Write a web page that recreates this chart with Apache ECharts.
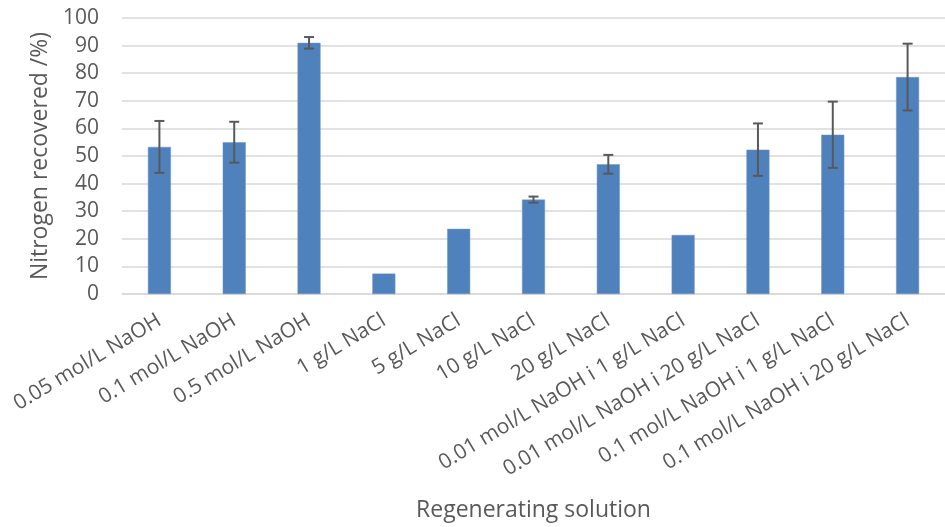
<!DOCTYPE html>
<html>
<head>
<meta charset="utf-8">
<script src="https://cdn.jsdelivr.net/npm/echarts@6/dist/echarts.min.js"></script>
<style>
  html, body { margin: 0; padding: 0; background: #fff; }
  #chart { width: 945px; height: 527px; }
</style>
</head>
<body>
<div id="chart"></div>
<script>
// Regenerating solutions tested
const categories = [
  '0.05 mol/L NaOH',
  '0.1 mol/L NaOH',
  '0.5 mol/L NaOH',
  '1 g/L NaCl',
  '5 g/L NaCl',
  '10 g/L NaCl',
  '20 g/L NaCl',
  '0.01 mol/L NaOH i 1 g/L NaCl',
  '0.01 mol/L NaOH i 20 g/L NaCl',
  '0.1 mol/L NaOH i 1 g/L NaCl',
  '0.1 mol/L NaOH i 20 g/L NaCl'
];
// Mean nitrogen recovered (%)
const recovered = [53.3, 55.0, 91.0, 7.4, 23.6, 34.2, 47.0, 21.4, 52.3, 57.7, 78.6];
// Symmetric error (± %), null where no error bar is shown
const errors = [9.4, 7.4, 2.1, null, null, 1.1, 3.4, null, 9.5, 12.0, 12.1];
const yTicks = { min: 0, max: 100, interval: 10 };

const font = '"Open Sans", "Noto Sans", sans-serif';
const textColor = '#595959';
const gridColor = '#d9d9d9';

const errorData = recovered.map((v, i) => [i, v, errors[i]]);

const chart = echarts.init(document.getElementById('chart'), null, { renderer: 'canvas' });
chart.setOption({
  animation: false,
  backgroundColor: '#ffffff',
  grid: { left: 122, top: 18, width: 829, height: 278, containLabel: false },
  xAxis: {
    type: 'category',
    data: categories,
    name: 'Regenerating solution',
    nameLocation: 'middle',
    nameGap: 205,
    nameTextStyle: { fontFamily: font, fontSize: 23, color: textColor },
    axisLine: { show: true, lineStyle: { color: gridColor, width: 1.5 } },
    axisTick: { show: false },
    axisLabel: {
      interval: 0,
      rotate: 31,
      margin: 25,
      fontFamily: font,
      fontSize: 21,
      color: textColor
    }
  },
  yAxis: {
    type: 'value',
    min: yTicks.min,
    max: yTicks.max,
    interval: yTicks.interval,
    name: 'Nitrogen recovered /%)',
    nameLocation: 'middle',
    nameGap: 65,
    nameRotate: 90,
    nameTextStyle: { fontFamily: font, fontSize: 23, color: textColor },
    axisLine: { show: false },
    axisTick: { show: false },
    axisLabel: { margin: 23, fontFamily: font, fontSize: 21, color: textColor },
    splitLine: { show: true, lineStyle: { color: gridColor, width: 1.5 } }
  },
  series: [
    {
      type: 'bar',
      data: recovered,
      barWidth: 23,
      itemStyle: { color: '#4f81bd', borderColor: '#6f96c8', borderWidth: 0.5 }
    },
    {
      type: 'custom',
      data: errorData,
      z: 5,
      renderItem: function (params, api) {
        const i = api.value(0);
        const v = api.value(1);
        const e = api.value(2);
        if (e === null || e === undefined || isNaN(e)) return null;
        const top = api.coord([i, v + e]);
        const bot = api.coord([i, v - e]);
        const cap = 5;
        const style = { stroke: '#595959', lineWidth: 2, fill: null };
        return {
          type: 'group',
          children: [
            { type: 'line', shape: { x1: top[0], y1: top[1], x2: bot[0], y2: bot[1] }, style: style },
            { type: 'line', shape: { x1: top[0] - cap, y1: top[1], x2: top[0] + cap, y2: top[1] }, style: style },
            { type: 'line', shape: { x1: bot[0] - cap, y1: bot[1], x2: bot[0] + cap, y2: bot[1] }, style: style }
          ]
        };
      }
    }
  ]
});
</script>
</body>
</html>
